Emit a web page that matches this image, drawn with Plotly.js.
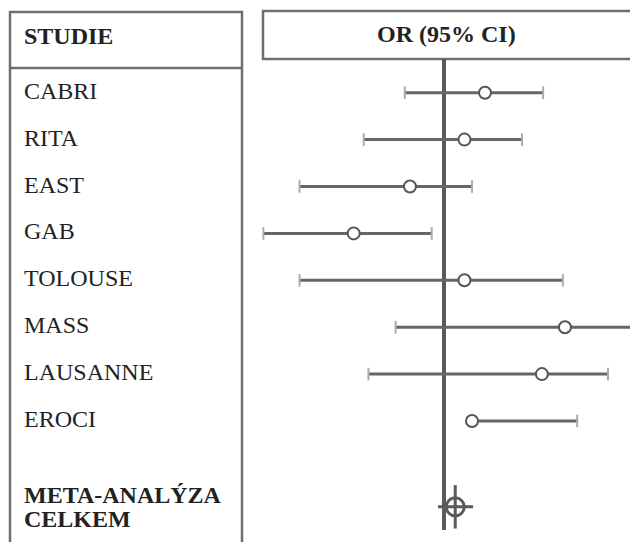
<!DOCTYPE html>
<html>
<head>
<meta charset="utf-8">
<script src="https://cdn.plot.ly/plotly-3.0.1.min.js"></script>
<style>html,body{margin:0;padding:0;background:#fff;}#chart{width:630px;height:542px;}</style>
</head>
<body>
<div id="chart"></div>
<script>
// ---- data ----
const studies = ['CABRI', 'RITA', 'EAST', 'GAB', 'TOLOUSE', 'MASS', 'LAUSANNE', 'EROCI'];
const orValue = [1.37, 1.17, 0.77, 0.50, 1.17, 2.53, 2.12, 1.24];
const ciLow   = [0.74, 0.54, 0.33, 0.25, 0.33, 0.69, 0.56, 1.24];
const ciHigh  = [2.14, 1.82, 1.24, 0.91, 2.49, 4.20, 3.52, 2.78];
const rowPos  = [0, 1, 2, 3, 4, 5, 6, 7];
const metaLabel = ['META-ANALÝZA', 'CELKEM'];
const metaOR = [1.09];
const metaLow = [0.955];
const metaHigh = [1.25];
const metaRow = [8.83];
const colHeaders = ['STUDIE', 'OR (95% CI)'];

// ---- build ----
const W = 630, H = 542;
const serif = 'Liberation Serif, Times New Roman, serif';
const ink = '#222222';
const boxGray = '#6f6f6f';

const ciX = [], ciY = [];
studies.forEach((s, i) => {
  ciX.push(ciLow[i], ciHigh[i], null);
  ciY.push(rowPos[i], rowPos[i], null);
});
const capX = ciLow.concat(ciHigh);
const capY = rowPos.concat(rowPos);

const traces = [
  {x: ciX, y: ciY, mode: 'lines', line: {color: '#666666', width: 3}, hoverinfo: 'skip'},
  {x: capX, y: capY, mode: 'markers',
   marker: {symbol: 'line-ns', size: 9, color: '#ababab', line: {color: '#ababab', width: 2}}, hoverinfo: 'skip'},
  {x: orValue, y: rowPos, mode: 'markers', text: studies,
   marker: {symbol: 'circle', size: 12, color: '#ffffff', line: {color: '#555555', width: 2}}},
  {x: [metaLow[0], metaHigh[0]], y: [metaRow[0], metaRow[0]], mode: 'lines', line: {color: '#5a5a5a', width: 3}, hoverinfo: 'skip'},
  {x: metaOR, y: metaRow, mode: 'markers',
   marker: {symbol: 'line-ns', size: 31, color: '#5a5a5a', line: {color: '#5a5a5a', width: 3}}, hoverinfo: 'skip'},
  {x: metaOR, y: metaRow, mode: 'markers',
   marker: {symbol: 'circle-open', size: 18, color: '#5a5a5a', line: {color: '#5a5a5a', width: 3}}}
];

const annotations = [];
studies.forEach((s, i) => {
  annotations.push({text: s, xref: 'paper', yref: 'y', x: 22 / W, y: rowPos[i], yshift: 2, xanchor: 'left', yanchor: 'middle',
    showarrow: false, font: {family: serif, size: 24, color: ink}});
});
annotations.push({text: metaLabel[0], xref: 'paper', yref: 'y', x: 22 / W, y: metaRow[0], yshift: 12, xanchor: 'left', yanchor: 'middle',
  showarrow: false, font: {family: serif, size: 24, color: ink, weight: 'bold'}});
annotations.push({text: metaLabel[1], xref: 'paper', yref: 'y', x: 22 / W, y: metaRow[0], yshift: -12, xanchor: 'left', yanchor: 'middle',
  showarrow: false, font: {family: serif, size: 24, color: ink, weight: 'bold'}});
annotations.push({text: colHeaders[0], xref: 'paper', yref: 'paper', x: 22 / W, y: 1 - 36 / H, xanchor: 'left', yanchor: 'middle',
  showarrow: false, font: {family: serif, size: 24, color: ink, weight: 'bold'}});
annotations.push({text: colHeaders[1], xref: 'paper', yref: 'paper', x: 446 / W, y: 1 - 34 / H, xanchor: 'center', yanchor: 'middle',
  showarrow: false, font: {family: serif, size: 24, color: ink, weight: 'bold'}});

const px = v => v / W, py = v => 1 - v / H;
const shapes = [
  {type: 'rect', xref: 'paper', yref: 'paper', x0: px(10), x1: px(242), y0: py(12), y1: py(560), line: {color: boxGray, width: 2.5}, layer: 'below'},
  {type: 'line', xref: 'paper', yref: 'paper', x0: px(10), x1: px(242), y0: py(68), y1: py(68), line: {color: boxGray, width: 2.5}, layer: 'below'},
  {type: 'rect', xref: 'paper', yref: 'paper', x0: px(263), x1: px(650), y0: py(11), y1: py(59), line: {color: boxGray, width: 2.5}, layer: 'below'},
  {type: 'line', xref: 'x', yref: 'paper', x0: 1, x1: 1, y0: py(59), y1: py(530), line: {color: '#5a5a5a', width: 4}, layer: 'below'}
];

const layout = {
  width: W, height: H,
  margin: {l: 0, r: 0, t: 0, b: 0, pad: 0},
  paper_bgcolor: '#ffffff', plot_bgcolor: '#ffffff',
  showlegend: false,
  xaxis: {type: 'log', domain: [255 / W, 1], range: [-0.63, 0.62], showgrid: false, zeroline: false,
          showticklabels: false, ticks: '', showline: false, fixedrange: true},
  yaxis: {range: [9.58, -1.977], showgrid: false, zeroline: false, showticklabels: false, ticks: '', showline: false, fixedrange: true},
  annotations: annotations,
  shapes: shapes
};

Plotly.newPlot('chart', traces, layout, {displayModeBar: false, staticPlot: true});
</script>
</body>
</html>
